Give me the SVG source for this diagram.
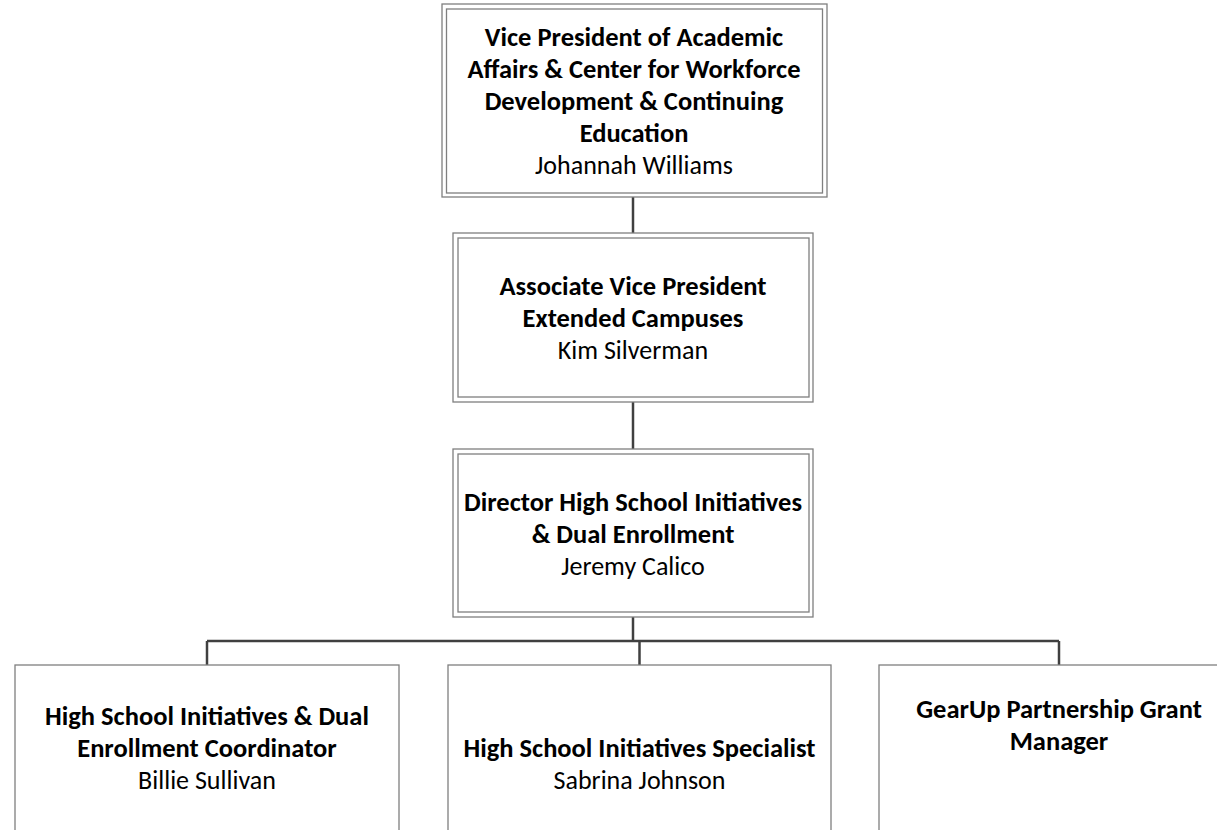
<svg xmlns="http://www.w3.org/2000/svg" width="1217" height="830" viewBox="0 0 1217 830">
<style>
.box{fill:#ffffff;stroke:#7f7f7f;stroke-width:1.3}
.inner{fill:none;stroke:#7f7f7f;stroke-width:1.3}
.conn{fill:none;stroke:#404040;stroke-width:2.5}
.t{font-family:Carlito,Calibri,Lato,"Liberation Sans",sans-serif;font-size:26.5px;font-weight:bold;fill:#000;text-anchor:middle}
.n{font-family:Carlito,Calibri,Lato,"Liberation Sans",sans-serif;font-size:26px;font-weight:normal;fill:#000;text-anchor:middle}
</style>
<rect width="1217" height="830" fill="#ffffff"/>
<g id="connectors">
<path class="conn" d="M633 197V233"/>
<path class="conn" d="M633 402V449"/>
<path class="conn" d="M633 617V641"/>
<path class="conn" d="M207 641H1059"/>
<path class="conn" d="M207 641V665"/>
<path class="conn" d="M639.5 641V665"/>
<path class="conn" d="M1059 641V665"/>
</g>
<g id="vp">
<rect class="box" x="442" y="4" width="385" height="193"/>
<rect class="inner" x="446.5" y="9" width="376" height="184"/>
<text class="t" x="634" y="46">Vice President of Academic</text>
<text class="t" x="634" y="78">Affairs &amp; Center for Workforce</text>
<text class="t" x="634" y="110">Development &amp; Continuing</text>
<text class="t" x="634" y="142">Education</text>
<text class="n" x="634" y="174">Johannah Williams</text>
</g>
<g id="avp">
<rect class="box" x="453" y="233" width="360" height="169"/>
<rect class="inner" x="458" y="238" width="351" height="159"/>
<text class="t" x="633" y="294.5">Associate Vice President</text>
<text class="t" x="633" y="326.5">Extended Campuses</text>
<text class="n" x="633" y="358.5">Kim Silverman</text>
</g>
<g id="director">
<rect class="box" x="453" y="449" width="360" height="168"/>
<rect class="inner" x="458" y="454" width="351" height="158"/>
<text class="t" x="633" y="511">Director High School Initiatives</text>
<text class="t" x="633" y="543">&amp; Dual Enrollment</text>
<text class="n" x="633" y="575">Jeremy Calico</text>
</g>
<g id="coordinator">
<rect class="box" x="15" y="665" width="384" height="200"/>
<text class="t" x="207" y="725">High School Initiatives &amp; Dual</text>
<text class="t" x="207" y="757">Enrollment Coordinator</text>
<text class="n" x="207" y="789">Billie Sullivan</text>
</g>
<g id="specialist">
<rect class="box" x="448" y="665" width="383" height="200"/>
<text class="t" x="639.5" y="757">High School Initiatives Specialist</text>
<text class="n" x="639.5" y="789">Sabrina Johnson</text>
</g>
<g id="gearup">
<rect class="box" x="879" y="665" width="384" height="200"/>
<text class="t" x="1059" y="718">GearUp Partnership Grant</text>
<text class="t" x="1059" y="750">Manager</text>
</g>
</svg>
